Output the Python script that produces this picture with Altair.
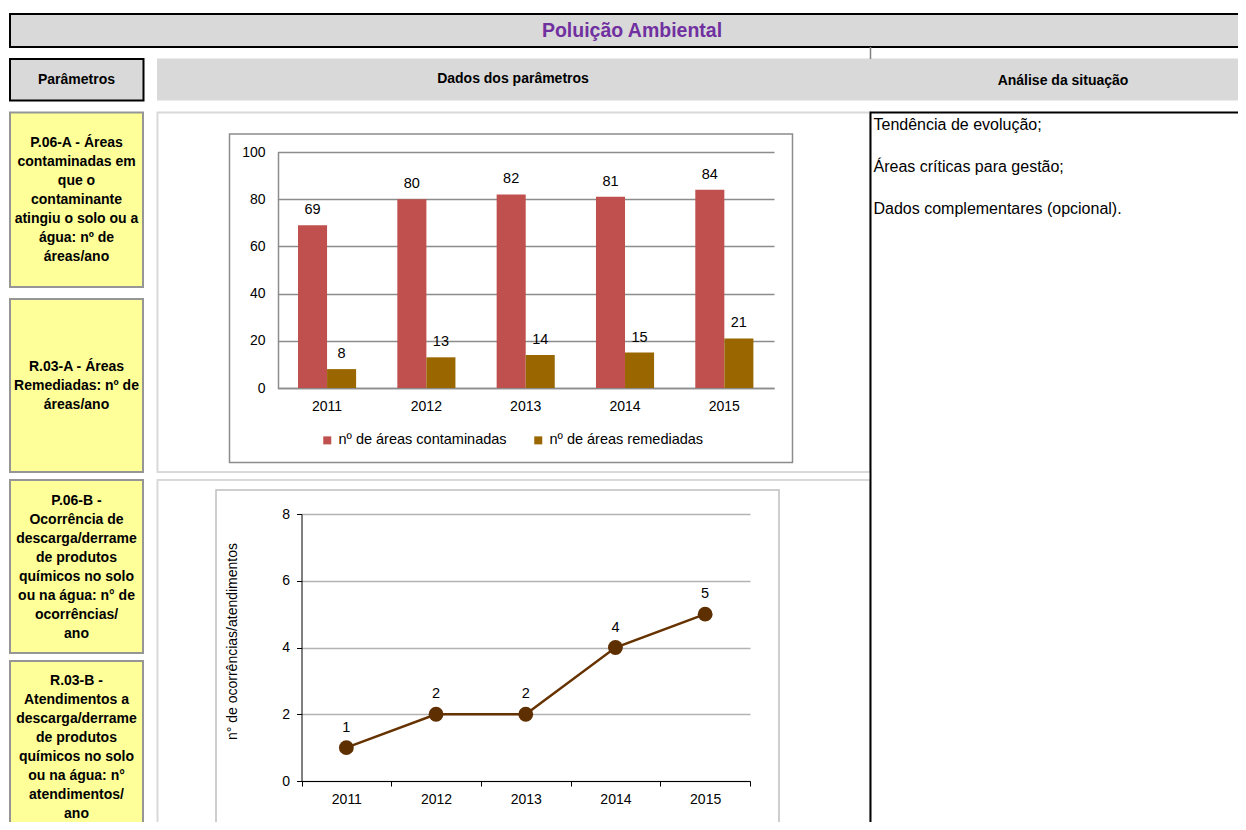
import altair as alt
import pandas as pd

# ---------------- data ----------------
years = ["2011", "2012", "2013", "2014", "2015"]
contaminadas = [69, 80, 82, 81, 84]
remediadas = [8, 13, 14, 15, 21]
series_names = ["nº de áreas contaminadas", "nº de áreas remediadas"]
series_colors = ["#C0504D", "#996600"]
ocorrencias = [1, 2, 2, 4, 5]

title_text = "Poluição Ambiental"
header_texts = ["Parâmetros", "Dados dos parâmetros", "Análise da situação"]
param_texts = [
    "P.06-A - Áreas\ncontaminadas em\nque o\ncontaminante\natingiu o solo ou a\nágua: nº de\náreas/ano",
    "R.03-A - Áreas\nRemediadas: nº de\náreas/ano",
    "P.06-B -\nOcorrência de\ndescarga/derrame\nde produtos\nquímicos no solo\nou na água: n° de\nocorrências/\nano",
    "R.03-B -\nAtendimentos a\ndescarga/derrame\nde produtos\nquímicos no solo\nou na água: n°\natendimentos/\nano",
]
analysis_texts = ["Tendência de evolução;", "Áreas críticas para gestão;", "Dados complementares (opcional)."]
line_y_title = "n° de ocorrências/atendimentos"

# ---------------- layout (page pixels) ----------------
W, H = 1230, 814
OX, OY = 8, 8
LH = 19  # line height of the parameter boxes

boxes = [  # x, x2, y, y2, fill, stroke, width
    (10, 1262, 14, 47, "#D9D9D9", "#000000", 2),
    (157, 1262, 58.5, 100.5, "#D9D9D9", "transparent", 0),
    (10, 143.5, 59, 100.5, "#D9D9D9", "#000000", 2),
    (10, 143, 112.5, 287, "#FFFF99", "#969696", 2),
    (10, 143, 299, 472, "#FFFF99", "#969696", 2),
    (10, 143, 480, 653, "#FFFF99", "#969696", 2),
    (10, 143, 661, 850, "#FFFF99", "#969696", 2),
    (157.5, 870, 112.5, 472, "transparent", "#D9D9D9", 2),
    (157.5, 870, 480, 850, "transparent", "#D9D9D9", 2),
    (870.5, 1262, 112.5, 850, "transparent", "#000000", 2),
    (229.5, 792.5, 134, 462.5, "transparent", "#8C8C8C", 1.5),
    (216, 779, 490, 827, "transparent", "#BFBFBF", 1.5),
]
rect_df = pd.DataFrame(
    [dict(x=a - OX, x2=b - OX, y=c - OY, y2=d - OY, fill=f, stroke=s, sw=w) for a, b, c, d, f, s, w in boxes]
)
rule_df = pd.DataFrame([dict(x=870.5 - OX, y=47 - OY, y2=59 - OY)])

px = alt.Scale(domain=[0, W], range=[0, W], nice=False, zero=False)
py = alt.Scale(domain=[0, H], range=[0, H], nice=False, zero=False)

rects = alt.Chart(rect_df).mark_rect().encode(
    x=alt.X("x:Q", scale=px, axis=None),
    x2="x2:Q",
    y=alt.Y("y:Q", scale=py, axis=None),
    y2="y2:Q",
    fill=alt.Fill("fill:N", scale=None),
    stroke=alt.Stroke("stroke:N", scale=None),
    strokeWidth=alt.StrokeWidth("sw:Q", scale=None),
)
rule = alt.Chart(rule_df).mark_rule(color="#808080", strokeWidth=1.5).encode(
    x=alt.X("x:Q", scale=px, axis=None), y=alt.Y("y:Q", scale=py, axis=None), y2="y2:Q"
)

title_df = pd.DataFrame([dict(x=632 - OX, y=30.5 - OY, t=title_text)])
title_layer = alt.Chart(title_df).mark_text(
    fontSize=19.5, fontWeight="bold", color="#7030A0", align="center", baseline="middle"
).encode(x=alt.X("x:Q", scale=px, axis=None), y=alt.Y("y:Q", scale=py, axis=None), text="t:N")

hdr_df = pd.DataFrame(
    [dict(x=x - OX, y=y - OY, t=t) for (x, y), t in zip([(76.5, 80), (513, 78.5), (1063, 80.5)], header_texts)]
)
hdr_layer = alt.Chart(hdr_df).mark_text(
    fontSize=14, fontWeight="bold", color="#000000", align="center", baseline="middle"
).encode(x=alt.X("x:Q", scale=px, axis=None), y=alt.Y("y:Q", scale=py, axis=None), text="t:N")

# first-line position so that each block is centred on its box centre
param_centres = [199.5, 386, 567, 747.5]
param_df = pd.DataFrame(
    [
        dict(x=76.5 - OX, y=c - (t.count("\n")) * LH / 2 - OY, t=t)
        for c, t in zip(param_centres, param_texts)
    ]
)
param_layer = alt.Chart(param_df).mark_text(
    fontSize=14, fontWeight="bold", color="#000000", align="center", baseline="middle",
    lineBreak="\n", lineHeight=LH,
).encode(x=alt.X("x:Q", scale=px, axis=None), y=alt.Y("y:Q", scale=py, axis=None), text="t:N")

an_df = pd.DataFrame([dict(x=873.5 - OX, y=y - OY, t=t) for y, t in zip([125, 167, 209], analysis_texts)])
an_layer = alt.Chart(an_df).mark_text(
    fontSize=16, color="#000000", align="left", baseline="middle"
).encode(x=alt.X("x:Q", scale=px, axis=None), y=alt.Y("y:Q", scale=py, axis=None), text="t:N")

deco = alt.layer(rects, rule, title_layer, hdr_layer, param_layer, an_layer)

# ---------------- bar chart ----------------
bar_df = pd.DataFrame(
    {"ano": years * 2, "serie": [series_names[0]] * 5 + [series_names[1]] * 5, "valor": contaminadas + remediadas}
)
xb = alt.X(
    "ano:N",
    sort=years,
    scale=alt.Scale(type="band", range=[277.4 - OX, 774 - OX], paddingInner=0.415, paddingOuter=0.2075),
    axis=alt.Axis(
        orient="bottom", offset=(388 - OY) - H, title=None, labelAngle=0, ticks=False, tickSize=0,
        domainColor="#8C8C8C", domainWidth=1.5, labelFontSize=14, labelColor="#000000", labelPadding=11, grid=False,
    ),
)
yb = alt.Y(
    "valor:Q",
    scale=alt.Scale(domain=[0, 100], range=[388 - OY, 152 - OY], nice=False, zero=True),
    axis=alt.Axis(
        orient="left", offset=-(278 - OX), title=None, values=[0, 20, 40, 60, 80, 100], ticks=False, tickSize=0,
        domainColor="#8C8C8C", domainWidth=1.5, grid=True, gridColor="#8C8C8C", gridWidth=1.5,
        labelFontSize=14, labelColor="#000000", labelPadding=13,
    ),
)
bbase = alt.Chart(bar_df).encode(x=xb, xOffset=alt.XOffset("serie:N", sort=series_names), y=yb)
bars = bbase.mark_bar().encode(
    color=alt.Color(
        "serie:N",
        scale=alt.Scale(domain=series_names, range=series_colors),
        legend=alt.Legend(
            orient="none", legendX=320 - OX, legendY=433 - OY, direction="horizontal", title=None,
            symbolType="square", symbolSize=64, symbolStrokeWidth=0, labelFontSize=14.5, labelLimit=0,
            labelColor="#000000", labelOffset=4, columnPadding=24,
        ),
    )
)
bar_labels = bbase.mark_text(baseline="bottom", dy=-8, fontSize=14.5, color="#000000").encode(text="valor:Q")
bar_chart = alt.layer(bars, bar_labels)

# ---------------- line chart ----------------
line_df = pd.DataFrame({"ano": years, "n": ocorrencias})
xl = alt.X(
    "ano:N",
    sort=years,
    scale=alt.Scale(type="band", range=[301.5 - OX, 750 - OX], paddingInner=0, paddingOuter=0),
    axis=alt.Axis(
        orient="bottom", offset=(781 - OY) - H, title=None, labelAngle=0, tickBand="extent", tickSize=5,
        tickColor="#000000", domainColor="#000000", labelFontSize=14, labelColor="#000000", labelPadding=6,
        grid=False,
    ),
)
yl = alt.Y(
    "n:Q",
    scale=alt.Scale(domain=[0, 8], range=[781 - OY, 514 - OY], nice=False, zero=True),
    axis=alt.Axis(
        orient="left", offset=-(301.5 - OX), values=[0, 2, 4, 6, 8], title=line_y_title, tickSize=5,
        tickColor="#000000", domainColor="#000000", grid=True, gridColor="#B3B3B3", gridWidth=1.5,
        labelFontSize=14, labelColor="#000000", labelPadding=7, titleFontSize=14, titleFontWeight="normal",
        titleColor="#000000", titlePadding=42, titleY=641 - OY,
    ),
)
lbase = alt.Chart(line_df).encode(x=xl, y=yl)
line = lbase.mark_line(color="#663300", strokeWidth=2.5)
pts = lbase.mark_point(filled=True, size=220, color="#5E2F00", opacity=1)
line_labels = lbase.mark_text(baseline="bottom", dy=-13, fontSize=14.5, color="#000000").encode(text="n:Q")
line_chart = alt.layer(line, pts, line_labels)

chart = (
    alt.layer(deco, bar_chart, line_chart)
    .resolve_scale(x="independent", y="independent")
    .properties(width=W, height=H, padding=0, autosize=alt.AutoSizeParams(type="none"))
    .configure(font="Liberation Sans")
    .configure_view(stroke=None)
)

chart.save("out.html", embed_options={"renderer": "svg", "actions": False})
